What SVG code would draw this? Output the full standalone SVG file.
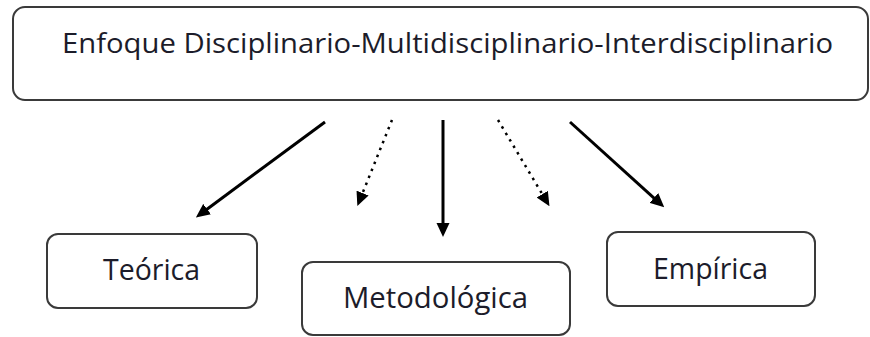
<svg xmlns="http://www.w3.org/2000/svg" width="870" height="337" viewBox="0 0 870 337">
<style>
.box{fill:#fff;stroke:#3a3a3a;stroke-width:2}
.lbl{font-family:"Open Sans","Liberation Sans",sans-serif;fill:#1c1c2a}
.solid{stroke:#000;stroke-width:3;fill:none}
.dot{stroke:#000;stroke-width:2.5;fill:none;stroke-dasharray:2.5 5}
</style>
<defs>
<marker id="ah" viewBox="0 -7 14 14" markerWidth="14" markerHeight="14" refX="1" refY="0" markerUnits="userSpaceOnUse" orient="auto">
<path d="M0,-6.5 L14,0 L0,6.5 z" fill="#000"/>
</marker>
</defs>
<rect width="870" height="337" fill="#fff"/>
<g id="top">
<rect class="box" x="13" y="7" width="855" height="93" rx="12"/>
<text class="lbl" x="62" y="53" font-size="28" textLength="771" lengthAdjust="spacingAndGlyphs">Enfoque Disciplinario-Multidisciplinario-Interdisciplinario</text>
</g>
<g id="teorica">
<rect class="box" x="47" y="234" width="210" height="74" rx="11"/>
<text class="lbl" x="103" y="280" font-size="30" textLength="97" lengthAdjust="spacingAndGlyphs">Teórica</text>
</g>
<g id="metodologica">
<rect class="box" x="302" y="262" width="268" height="73" rx="11"/>
<text class="lbl" x="343" y="308" font-size="30" textLength="185" lengthAdjust="spacingAndGlyphs">Metodológica</text>
</g>
<g id="empirica">
<rect class="box" x="607" y="232" width="208" height="74" rx="11"/>
<text class="lbl" x="653" y="279" font-size="30" textLength="115" lengthAdjust="spacingAndGlyphs">Empírica</text>
</g>
<g id="connectors">
<line class="solid" x1="325" y1="122" x2="206.3" y2="209.7" marker-end="url(#ah)"/>
<line class="dot" x1="392" y1="120" x2="362.2" y2="194" marker-end="url(#ah)"/>
<line class="solid" x1="443" y1="120" x2="443" y2="224" marker-end="url(#ah)"/>
<line class="dot" x1="498" y1="120" x2="542.8" y2="195" marker-end="url(#ah)"/>
<line class="solid" x1="570" y1="122" x2="654.6" y2="198.6" marker-end="url(#ah)"/>
</g>
</svg>
